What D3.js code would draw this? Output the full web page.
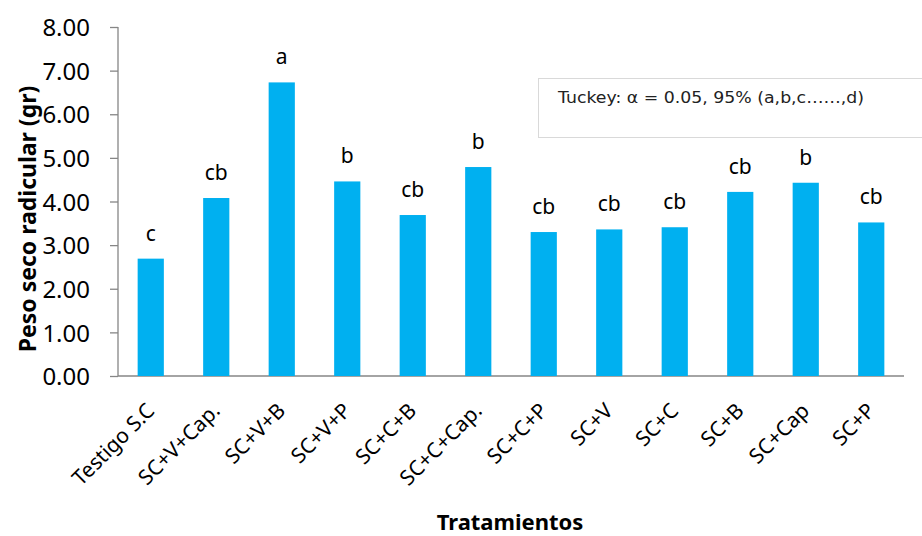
<!DOCTYPE html>
<html>
<head>
<meta charset="utf-8">
<script src="https://cdn.jsdelivr.net/npm/d3@7"></script>
<style>
  body { margin: 0; background: #fff; }
  svg { display: block; }
</style>
</head>
<body>
<div id="chart"></div>
<script>
// treatments and dry root weight
const categories = ["Testigo S.C", "SC+V+Cap.", "SC+V+B", "SC+V+P", "SC+C+B", "SC+C+Cap.",
                    "SC+C+P", "SC+V", "SC+C", "SC+B", "SC+Cap", "SC+P"];
const values = [2.69, 4.08, 6.73, 4.46, 3.69, 4.79, 3.30, 3.36, 3.41, 4.22, 4.43, 3.52];
const letters = ["c", "cb", "a", "b", "cb", "b", "cb", "cb", "cb", "cb", "b", "cb"];
const yTicks = [0, 1, 2, 3, 4, 5, 6, 7, 8];
const noteText = "Tuckey: \u03b1 = 0.05, 95%  (a,b,c\u2026\u2026,d)";

const W = 922, H = 536;
const margin = { top: 27, right: 18, bottom: 160, left: 118 };
const width = W - margin.left - margin.right;
const height = H - margin.top - margin.bottom;

const svg = d3.select("#chart").append("svg")
    .attr("width", W)
    .attr("height", H);

const g = svg.append("g")
    .attr("transform", `translate(${margin.left},${margin.top})`);

const x = d3.scaleBand()
    .domain(categories)
    .range([0, width])
    .paddingInner(0.6)
    .paddingOuter(0.3);

const y = d3.scaleLinear()
    .domain([0, 8])
    .range([height, 0]);

// note box
svg.append("rect")
    .attr("x", 538.5)
    .attr("y", 78.5)
    .attr("width", 400)
    .attr("height", 59)
    .attr("fill", "#fff")
    .attr("stroke", "#d9d9d9");

svg.append("text")
    .attr("x", 558)
    .attr("y", 103)
    .attr("textLength", 306)
    .attr("lengthAdjust", "spacingAndGlyphs")
    .style("font-family", "DejaVu Sans")
    .style("font-size", "16px")
    .style("fill", "#222")
    .text(noteText);

// y axis
const yAxis = g.append("g")
    .call(d3.axisLeft(y).tickValues(yTicks).tickSize(8).tickPadding(20).tickFormat(d3.format(".2f")));
yAxis.select(".domain").attr("d", `M0,0V${height}`);
yAxis.selectAll("line, path").attr("stroke", "#868686").attr("stroke-width", 1.3);
yAxis.selectAll("text")
    .style("font-family", "Noto Sans")
    .style("font-size", "24px")
    .style("fill", "#000")
    .attr("dy", "0.36em");

// x axis line
g.append("line")
    .attr("x1", 0).attr("x2", width)
    .attr("y1", height).attr("y2", height)
    .attr("stroke", "#868686")
    .attr("stroke-width", 1.3);

// bars
g.selectAll(".bar")
    .data(values)
    .enter()
    .append("rect")
    .attr("class", "bar")
    .attr("x", (d, i) => x(categories[i]))
    .attr("y", d => y(d))
    .attr("width", x.bandwidth())
    .attr("height", d => height - y(d))
    .attr("fill", "#00b0f0");

// letters above bars
g.selectAll(".letter")
    .data(letters)
    .enter()
    .append("text")
    .attr("class", "letter")
    .attr("x", (d, i) => x(categories[i]) + x.bandwidth() / 2)
    .attr("y", (d, i) => y(values[i]) - 18)
    .attr("text-anchor", "middle")
    .style("font-family", "Noto Sans")
    .style("font-size", "21px")
    .style("fill", "#000")
    .text(d => d);

// category labels, rotated
g.selectAll(".cat")
    .data(categories)
    .enter()
    .append("text")
    .attr("class", "cat")
    .attr("text-anchor", "end")
    .attr("transform", d => `translate(${x(d) + x.bandwidth() / 2 + 5},${height + 36}) rotate(-45)`)
    .style("font-family", "Noto Sans")
    .style("font-size", "21px")
    .style("fill", "#000")
    .text(d => d);

// axis titles
svg.append("text")
    .attr("transform", `translate(36,219) rotate(-90)`)
    .attr("text-anchor", "middle")
    .style("font-family", "Noto Sans")
    .style("font-weight", "bold")
    .style("font-size", "23px")
    .text("Peso seco radicular (gr)");

svg.append("text")
    .attr("x", 510)
    .attr("y", 530)
    .attr("text-anchor", "middle")
    .style("font-family", "Noto Sans")
    .style("font-weight", "bold")
    .style("font-size", "22px")
    .text("Tratamientos");
</script>
</body>
</html>
